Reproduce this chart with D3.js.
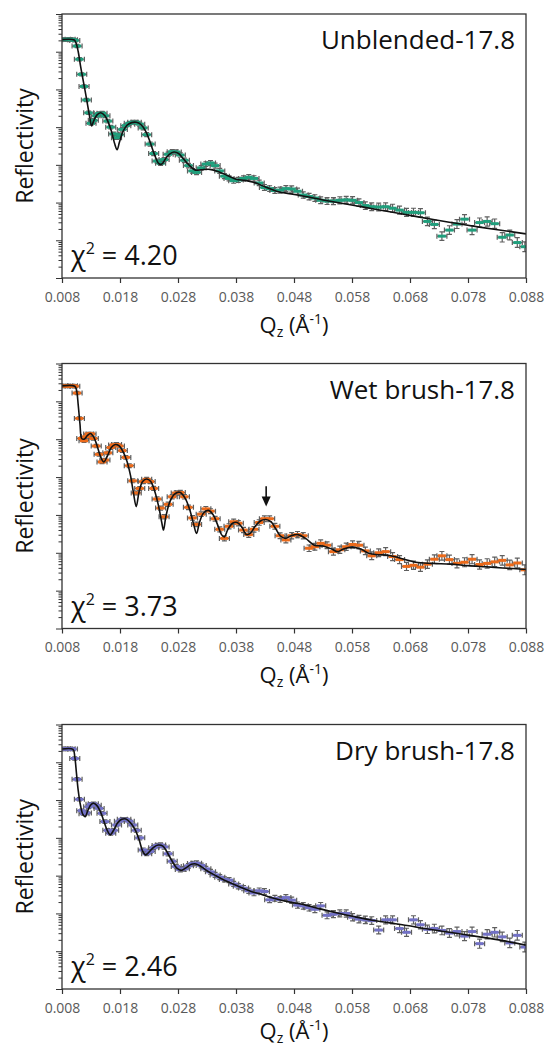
<!DOCTYPE html>
<html><head><meta charset="utf-8">
<script src="https://cdn.jsdelivr.net/npm/d3@7"></script>
<style>body{margin:0;background:#fff}svg{display:block}text{font-family:"Open Sans",sans-serif}</style>
</head><body><svg id="c" width="545" height="1047"></svg>
<script>
// ---------- data ----------
const qData = [0.0082,0.0086,0.0090,0.0094,0.0098,0.0102,0.0106,0.0110,0.0114,0.0118,0.0122,0.0126,0.0130,0.0134,
0.0139,0.0144,0.0149,0.0154,0.0159,0.0164,0.0169,0.0174,0.0179,0.0184,
0.0190,0.0196,0.0202,0.0208,0.0214,0.0220,0.0226,0.0232,0.0238,0.0244,0.0250,0.0256,
0.0263,0.0270,0.0277,0.0284,0.0291,0.0298,0.0305,0.0312,
0.0320,0.0328,0.0336,0.0344,0.0352,0.0360,0.0368,0.0376,0.0384,
0.0393,0.0402,0.0411,0.0420,0.0429,0.0438,0.0447,
0.0456,0.0466,0.0476,0.0486,0.0496,0.0506,0.0516,0.0526,
0.0537,0.0548,0.0559,0.0570,0.0581,0.0592,0.0603,0.0614,
0.0626,0.0638,0.0650,0.0662,0.0674,0.0686,0.0698,0.0710,0.0722,
0.0735,0.0748,0.0761,0.0774,0.0787,0.0800,0.0813,0.0826,0.0839,0.0852,0.0865,0.0878];

// log10(reflectivity)
const unblendedLogR = [-0.68,-0.67,-0.68,-0.67,-0.68,-0.70,-0.85,-1.20,-1.60,-1.92,-2.28,-2.62,-2.90,-2.82,
-2.70,-2.64,-2.63,-2.70,-2.84,-3.00,-3.18,-3.28,-3.20,-3.06,
-2.96,-2.90,-2.87,-2.87,-2.92,-3.02,-3.20,-3.45,-3.70,-3.90,-3.96,-3.86,
-3.72,-3.65,-3.66,-3.74,-3.88,-4.02,-4.16,-4.20,
-4.08,-3.98,-3.95,-4.02,-4.16,-4.30,-4.36,-4.42,-4.40,
-4.36,-4.33,-4.36,-4.48,-4.60,-4.63,-4.68,
-4.67,-4.63,-4.64,-4.70,-4.80,-4.84,-4.88,-4.94,
-4.96,-4.96,-4.94,-4.93,-4.94,-5.00,-5.08,-5.11,
-5.12,-5.11,-5.15,-5.20,-5.26,-5.26,-5.27,-5.50,-5.58,
-5.89,-5.73,-5.57,-5.44,-5.73,-5.53,-5.50,-5.56,-5.92,-5.86,-6.06,-6.17];

const wetLogR = [-0.59,-0.60,-0.59,-0.60,-0.59,-0.60,-0.78,-1.45,-1.98,-2.04,-1.93,-1.86,-1.86,-1.98,
-2.18,-2.40,-2.60,-2.55,-2.36,-2.22,-2.15,-2.14,-2.18,-2.30,
-2.48,-2.70,-3.10,-3.42,-3.30,-3.12,-3.06,-3.12,-3.30,-3.58,-3.82,-4.05,
-3.72,-3.52,-3.42,-3.41,-3.52,-3.80,-4.08,-4.25,
-3.98,-3.84,-3.90,-4.10,-4.38,-4.62,-4.30,-4.18,-4.22,
-4.40,-4.52,-4.38,-4.20,-4.10,-4.10,-4.30,
-4.55,-4.66,-4.55,-4.52,-4.55,-4.88,-4.84,-4.75,
-4.80,-4.97,-4.92,-4.84,-4.78,-4.80,-4.95,-5.08,
-5.00,-4.97,-5.10,-5.18,-5.36,-5.33,-5.38,-5.30,-5.17,
-5.08,-5.18,-5.28,-5.25,-5.17,-5.31,-5.28,-5.24,-5.20,-5.32,-5.27,-5.45];

const dryLogR = [-0.65,-0.64,-0.65,-0.64,-0.65,-0.90,-1.45,-1.98,-2.28,-2.36,-2.34,-2.18,-2.11,-2.10,
-2.14,-2.22,-2.35,-2.57,-2.80,-2.88,-2.80,-2.66,-2.56,-2.51,
-2.51,-2.56,-2.66,-2.80,-3.00,-3.32,-3.42,-3.36,-3.26,-3.20,-3.19,-3.24,
-3.42,-3.62,-3.76,-3.84,-3.82,-3.74,-3.68,-3.67,
-3.73,-3.82,-3.90,-3.98,-4.04,-4.10,-4.12,-4.22,-4.28,
-4.33,-4.40,-4.46,-4.40,-4.42,-4.64,-4.60,
-4.63,-4.58,-4.65,-4.78,-4.80,-4.85,-4.89,-4.80,
-5.05,-5.02,-5.00,-5.00,-5.10,-5.15,-5.17,-5.19,
-5.44,-5.17,-5.17,-5.40,-5.50,-5.17,-5.30,-5.42,-5.40,
-5.45,-5.52,-5.48,-5.60,-5.48,-5.80,-5.55,-5.50,-5.62,-5.78,-5.58,-5.89];

// fitted curves
const fitQ1 = [0.0080,0.0101,0.0104,0.0108,0.0112,0.0116,0.0120,0.0124,0.0128,0.0131,0.0134,0.0140,0.0147,0.0154,0.0160,0.0166,0.0171,0.0175,0.0179,0.0185,0.0192,0.0200,0.0208,0.0216,0.0224,0.0232,0.0240,0.0247,0.0252,0.0258,0.0265,0.0273,0.0281,0.0290,0.0300,0.0310,0.0320,0.0335,0.0350,0.0365,0.0380,0.0395,0.0410,0.0430,0.0450,0.0475,0.0500,0.0530,0.0560,0.0600,0.0640,0.0680,0.0720,0.0760,0.0800,0.0840,0.0880];
const fitLogR1 = [-0.68,-0.69,-0.76,-1.00,-1.38,-1.72,-2.05,-2.40,-2.75,-2.97,-2.86,-2.68,-2.62,-2.70,-2.88,-3.15,-3.45,-3.60,-3.40,-3.12,-2.95,-2.88,-2.87,-2.93,-3.10,-3.40,-3.75,-3.97,-3.98,-3.85,-3.72,-3.66,-3.70,-3.85,-4.02,-4.14,-4.13,-4.12,-4.18,-4.28,-4.38,-4.41,-4.46,-4.58,-4.70,-4.77,-4.84,-4.93,-5.01,-5.12,-5.23,-5.34,-5.45,-5.55,-5.65,-5.74,-5.83];

const fitQ2 = [0.0080,0.0102,0.0105,0.0108,0.0111,0.0114,0.0118,0.0124,0.0129,0.0135,0.0141,0.0147,0.0152,0.0158,0.0165,0.0172,0.0178,0.0185,0.0192,0.0198,0.0203,0.0208,0.0213,0.0219,0.0226,0.0233,0.0240,0.0247,0.0252,0.0255,0.0259,0.0266,0.0274,0.0283,0.0292,0.0300,0.0307,0.0312,0.0317,0.0324,0.0332,0.0340,0.0348,0.0355,0.0360,0.0366,0.0374,0.0382,0.0390,0.0398,0.0405,0.0413,0.0422,0.0431,0.0440,0.0448,0.0456,0.0465,0.0475,0.0487,0.0500,0.0515,0.0530,0.0545,0.0555,0.0565,0.0580,0.0595,0.0610,0.0625,0.0645,0.0665,0.0690,0.0720,0.0750,0.0780,0.0810,0.0840,0.0880];
const fitLogR2 = [-0.59,-0.60,-0.70,-1.10,-1.60,-1.98,-2.00,-1.90,-1.85,-1.95,-2.20,-2.48,-2.60,-2.45,-2.22,-2.14,-2.17,-2.32,-2.58,-2.95,-3.40,-3.78,-3.38,-3.12,-3.05,-3.12,-3.38,-3.80,-4.20,-4.40,-4.05,-3.65,-3.45,-3.40,-3.55,-3.85,-4.25,-4.49,-4.20,-3.95,-3.88,-3.98,-4.25,-4.52,-4.58,-4.38,-4.22,-4.20,-4.32,-4.52,-4.48,-4.30,-4.16,-4.12,-4.18,-4.35,-4.55,-4.62,-4.55,-4.52,-4.62,-4.80,-4.82,-4.90,-4.97,-4.90,-4.85,-4.90,-5.02,-5.05,-5.07,-5.15,-5.25,-5.28,-5.30,-5.34,-5.37,-5.40,-5.44];

const fitQ3 = [0.0080,0.0099,0.0102,0.0105,0.0108,0.0112,0.0116,0.0120,0.0124,0.0129,0.0134,0.0140,0.0146,0.0152,0.0158,0.0163,0.0169,0.0176,0.0183,0.0190,0.0198,0.0206,0.0213,0.0219,0.0224,0.0230,0.0238,0.0246,0.0254,0.0262,0.0270,0.0278,0.0286,0.0295,0.0303,0.0311,0.0320,0.0330,0.0345,0.0360,0.0375,0.0390,0.0405,0.0420,0.0440,0.0460,0.0480,0.0500,0.0525,0.0555,0.0585,0.0615,0.0645,0.0675,0.0705,0.0735,0.0765,0.0800,0.0840,0.0880];
const fitLogR3 = [-0.65,-0.66,-0.85,-1.30,-1.75,-2.15,-2.38,-2.44,-2.30,-2.14,-2.08,-2.14,-2.30,-2.55,-2.80,-2.92,-2.80,-2.60,-2.51,-2.50,-2.60,-2.78,-3.05,-3.35,-3.45,-3.38,-3.25,-3.19,-3.22,-3.40,-3.62,-3.80,-3.86,-3.78,-3.70,-3.69,-3.76,-3.87,-4.00,-4.12,-4.22,-4.32,-4.41,-4.48,-4.58,-4.66,-4.72,-4.78,-4.88,-4.99,-5.09,-5.18,-5.25,-5.32,-5.40,-5.47,-5.54,-5.62,-5.72,-5.84];

const xTicks = [0.008,0.018,0.028,0.038,0.048,0.058,0.068,0.078,0.088];
const panelTitles = ["Unblended-17.8","Wet brush-17.8","Dry brush-17.8"];
const chiSquared = ["4.20","3.73","2.46"];
const arrowQ = 0.0432, arrowLogR = [-3.24,-3.78];
// approximate half error (log10 units) against Q
const errQ = [0.008,0.02,0.04,0.06,0.088];
const errLogHalf = [0.04,0.05,0.07,0.10,0.13];

// ---------- layout ----------
const svg = d3.select("#c");
const L = 62, R = 526;
const panels = [
  {top:14, bottom:278, logR:unblendedLogR, fq:fitQ1, fl:fitLogR1, color:"#1f9f7c", titleDy:55},
  {top:363.5, bottom:628.5, logR:wetLogR, fq:fitQ2, fl:fitLogR2, color:"#ec6a1a", titleDy:54},
  {top:724.5, bottom:989, logR:dryLogR, fq:fitQ3, fl:fitLogR3, color:"#7271c6", titleDy:50}
];
const x = d3.scaleLinear().domain([0.008,0.088]).range([L,R]);
const errScale = d3.scaleLinear().domain(errQ).range(errLogHalf).clamp(true);

const major = d3.range(-7,1).map(e=>Math.pow(10,e));
const minor = [];
for (let e=-7;e<0;e++) for (let k=2;k<10;k++) minor.push(k*Math.pow(10,e));

panels.forEach((p,i)=>{
  const y = d3.scaleLog().domain([1e-7,1]).range([p.bottom,p.top]);
  const g = svg.append("g");
  const cid = "clip"+i;
  svg.append("clipPath").attr("id",cid).append("rect")
    .attr("x",L).attr("y",p.top).attr("width",R-L).attr("height",p.bottom-p.top);

  // y axis ticks
  const ya = g.append("g").attr("transform",`translate(${L},0)`)
    .call(d3.axisLeft(y).tickValues(major).tickSize(6).tickFormat(""));
  const ym = g.append("g").attr("transform",`translate(${L},0)`)
    .call(d3.axisLeft(y).tickValues(minor).tickSize(3.5).tickFormat(""));
  [ya,ym].forEach(a=>{a.select(".domain").remove();a.selectAll("line").attr("stroke","#333").attr("stroke-width",1);});

  // x axis
  const xa = g.append("g").attr("transform",`translate(0,${p.bottom})`)
    .call(d3.axisBottom(x).tickValues(xTicks).tickSize(5).tickPadding(9).tickFormat(d3.format(".3f")));
  xa.select(".domain").remove();
  xa.selectAll("line").attr("stroke","#333").attr("stroke-width",1.2);
  xa.selectAll("text").attr("fill","#595959").style("font-size","14px").style("font-family","'Open Sans',sans-serif");

  // data
  const pts = qData.map((q,j)=>({q, v:p.logR[j]}));
  const dg = g.append("g").attr("clip-path",`url(#${cid})`);
  dg.selectAll("path.err").data(pts).join("path").attr("class","err")
    .attr("d",d=>{
      const cx=x(d.q), cy=y(Math.pow(10,d.v)), e=errScale(d.q);
      const y1=y(Math.pow(10,d.v+e)), y2=y(Math.pow(10,d.v-e));
      const hw=5;
      return `M${cx},${y1}V${y2}M${cx-2.5},${y1}H${cx+2.5}M${cx-2.5},${y2}H${cx+2.5}`+
             `M${cx-hw},${cy}H${cx+hw}M${cx-hw},${cy-2.5}V${cy+2.5}M${cx+hw},${cy-2.5}V${cy+2.5}`;
    })
    .attr("fill","none").attr("stroke","#5f5f5f").attr("stroke-width",1.2);
  dg.selectAll("rect.mk").data(pts).join("rect").attr("class","mk")
    .attr("x",d=>x(d.q)-4).attr("y",d=>y(Math.pow(10,d.v))-1.5)
    .attr("width",8).attr("height",3).attr("fill",p.color);

  // fit line
  const line = d3.line().x(d=>x(d[0])).y(d=>y(Math.pow(10,d[1]))).curve(d3.curveCatmullRom.alpha(0.5));
  dg.append("path").datum(p.fq.map((q,j)=>[q,p.fl[j]]))
    .attr("d",line).attr("fill","none").attr("stroke","#111").attr("stroke-width",1.6);

  // frame
  g.append("rect").attr("x",L).attr("y",p.top).attr("width",R-L).attr("height",p.bottom-p.top)
    .attr("fill","none").attr("stroke","#333").attr("stroke-width",1.3);

  // labels
  g.append("text").attr("x",R-11).attr("y",p.top+35).attr("text-anchor","end")
    .style("font-size","26px").attr("fill","#111").text(panelTitles[i]);
  const chi = g.append("text").attr("x",L+9).attr("y",p.bottom-13).style("font-size","27px").attr("fill","#111");
  chi.append("tspan").text("χ");
  chi.append("tspan").attr("dy",-11).style("font-size","16px").text("2");
  chi.append("tspan").attr("dy",11).text(" = "+chiSquared[i]);

  g.append("text").attr("transform",`translate(24,${(p.top+p.bottom)/2}) rotate(-90)`)
    .attr("text-anchor","middle").attr("dominant-baseline","central")
    .style("font-size","23px").attr("fill","#111").text("Reflectivity");

  const xt = g.append("text").attr("x",(L+R)/2).attr("y",p.bottom+p.titleDy).attr("text-anchor","middle")
    .style("font-size","22px").attr("fill","#111");
  xt.append("tspan").text("Q");
  xt.append("tspan").attr("dy",4).style("font-size","14px").text("z");
  xt.append("tspan").attr("dy",-4).text(" (Å");
  xt.append("tspan").attr("dy",-9).style("font-size","14px").text("-1");
  xt.append("tspan").attr("dy",9).text(")");

  if (i===1) {
    const ax = x(arrowQ), yA = y(Math.pow(10,arrowLogR[0])), yB = y(Math.pow(10,arrowLogR[1]));
    g.append("line").attr("x1",ax).attr("x2",ax).attr("y1",yA).attr("y2",yB-8)
      .attr("stroke","#111").attr("stroke-width",1.6);
    g.append("path").attr("d",`M${ax-4.5},${yB-10}L${ax+4.5},${yB-10}L${ax},${yB}Z`).attr("fill","#111");
  }
});
</script></body></html>
